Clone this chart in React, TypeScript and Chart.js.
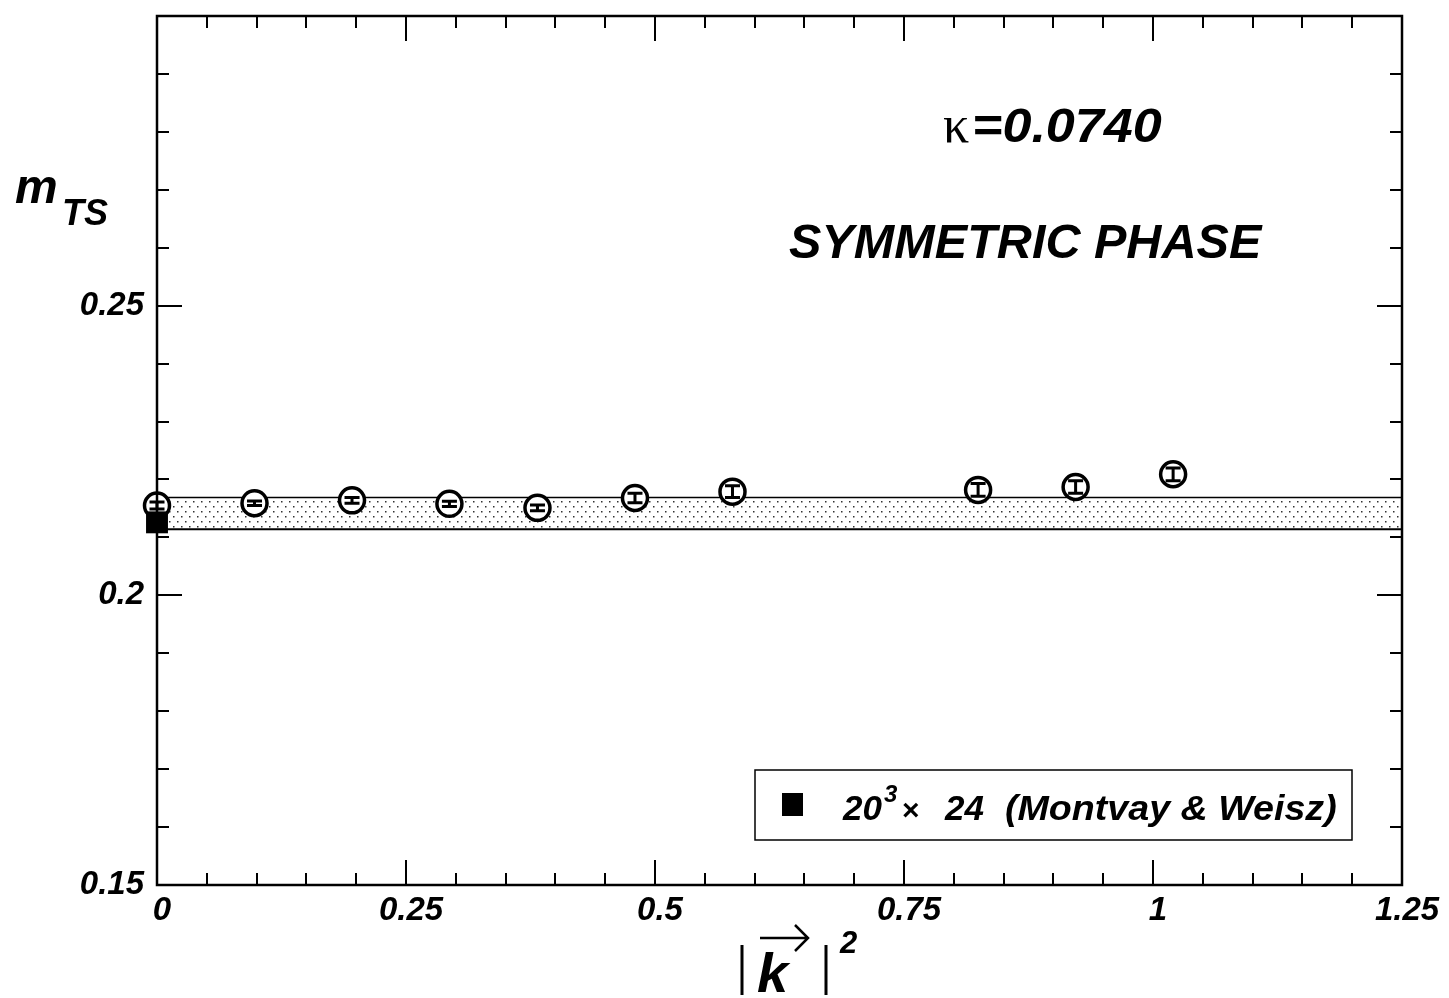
import React, { useEffect, useRef } from "react";
import { Chart, registerables } from "chart.js";
Chart.register(...registerables);

// ---- data ----
const kSquared = [0, 0.0979, 0.1958, 0.2936, 0.382, 0.4799, 0.5778, 0.8244, 0.9223, 1.0202];
const mTS = [0.2155, 0.2159, 0.2164, 0.2158, 0.2151, 0.2168, 0.2179, 0.2182, 0.2187, 0.2209];
const mTSErr = [0.0006, 0.0004, 0.0005, 0.00045, 0.0005, 0.0008, 0.001, 0.0011, 0.0011, 0.0011];
const refK = [0];
const refM = [0.2126];
const bandX = [0, 1.25];
const bandLow = [0.2114, 0.2114];
const bandHigh = [0.2169, 0.2169];
const xMajorTicks = [0, 0.25, 0.5, 0.75, 1, 1.25];
const xTickLabels = ["0", "0.25", "0.5", "0.75", "1", "1.25"];
const yMajorTicks = [0.15, 0.2, 0.25, 0.3];
const yTickLabels = ["0.15", "0.2", "0.25", ""];
const xMinorStep = 0.05;
const yMinorStep = 0.01;
const legendLabel = { base: "20", sup: "3", times: "×", rest1: "24", rest2: "(Montvay & Weisz)" };
const kappaText = "=0.0740";
const phaseText = "SYMMETRIC PHASE";

const SANS = '"Liberation Sans", Arial, Helvetica, sans-serif';
const SERIF = '"Liberation Serif", "Times New Roman", serif';

function makePattern(): CanvasPattern | string {
  const c = document.createElement("canvas");
  c.width = 8;
  c.height = 10;
  const g = c.getContext("2d");
  if (!g) return "#ccc";
  g.fillStyle = "#fff";
  g.fillRect(0, 0, 8, 10);
  g.fillStyle = "#333";
  g.fillRect(1, 1, 1.5, 1.5);
  g.fillRect(5, 6, 1.5, 1.5);
  const p = g.createPattern(c, "repeat");
  return p || "#ccc";
}

function stretchText(ctx: CanvasRenderingContext2D, text: string, x: number, y: number, sx: number) {
  ctx.save();
  ctx.translate(x, y);
  ctx.scale(sx, 1);
  ctx.fillText(text, 0, 0);
  ctx.restore();
}

const framePlugin = {
  id: "frameTicks",
  afterDatasetsDraw(chart: any) {
    const ctx = chart.ctx as CanvasRenderingContext2D;
    const xs = chart.scales.x;
    const ys = chart.scales.y;
    ctx.save();
    ctx.strokeStyle = "#000";
    ctx.lineWidth = 3;
    kSquared.forEach((k, i) => {
      const px = xs.getPixelForValue(k);
      const y1 = ys.getPixelForValue(mTS[i] + mTSErr[i]);
      const y2 = ys.getPixelForValue(mTS[i] - mTSErr[i]);
      ctx.beginPath();
      ctx.moveTo(px, y1);
      ctx.lineTo(px, y2);
      ctx.moveTo(px - 7.5, y1);
      ctx.lineTo(px + 7.5, y1);
      ctx.moveTo(px - 7.5, y2);
      ctx.lineTo(px + 7.5, y2);
      ctx.stroke();
    });
    ctx.restore();
  },
  afterDraw(chart: any) {
    const ctx = chart.ctx as CanvasRenderingContext2D;
    const { left, right, top, bottom } = chart.chartArea;
    const xs = chart.scales.x;
    const ys = chart.scales.y;
    ctx.save();
    ctx.strokeStyle = "#000";
    ctx.fillStyle = "#000";
    // ticks
    ctx.lineWidth = 2;
    ctx.beginPath();
    const majorLen = 25;
    const minorLen = 12;
    for (let v = xs.min; v <= xs.max + 1e-9; v += xMinorStep) {
      const isMajor = xMajorTicks.some((t) => Math.abs(t - v) < 1e-6);
      const len = isMajor ? majorLen : minorLen;
      const px = Math.round(xs.getPixelForValue(v));
      ctx.moveTo(px, bottom);
      ctx.lineTo(px, bottom - len);
      ctx.moveTo(px, top);
      ctx.lineTo(px, top + len);
    }
    for (let v = ys.min; v <= ys.max + 1e-9; v += yMinorStep) {
      const isMajor = yMajorTicks.some((t) => Math.abs(t - v) < 1e-6);
      const len = isMajor ? majorLen : minorLen;
      const py = Math.round(ys.getPixelForValue(v));
      ctx.moveTo(left, py);
      ctx.lineTo(left + len, py);
      ctx.moveTo(right, py);
      ctx.lineTo(right - len, py);
    }
    ctx.stroke();
    // frame
    ctx.lineWidth = 2.5;
    ctx.strokeRect(left, top, right - left, bottom - top);

    // tick labels
    ctx.font = `italic bold 33px ${SANS}`;
    ctx.textBaseline = "middle";
    ctx.textAlign = "center";
    xMajorTicks.forEach((t, i) => {
      ctx.fillText(xTickLabels[i], xs.getPixelForValue(t) + 5, 911);
    });
    ctx.textAlign = "right";
    yMajorTicks.forEach((t, i) => {
      if (yTickLabels[i]) ctx.fillText(yTickLabels[i], 144, ys.getPixelForValue(t));
    });

    // y axis title m_TS
    ctx.textAlign = "left";
    ctx.textBaseline = "alphabetic";
    ctx.font = `italic bold 48px ${SANS}`;
    ctx.fillText("m", 15, 203);
    ctx.font = `italic bold 36px ${SANS}`;
    ctx.fillText("TS", 62, 225);

    // x axis title |k|^2
    ctx.lineWidth = 3;
    ctx.beginPath();
    ctx.moveTo(742, 945);
    ctx.lineTo(742, 995);
    ctx.moveTo(826, 945);
    ctx.lineTo(826, 995);
    ctx.stroke();
    ctx.font = `italic bold 56px ${SANS}`;
    ctx.fillText("k", 757, 992);
    ctx.lineWidth = 2.5;
    ctx.beginPath();
    ctx.moveTo(760, 938);
    ctx.lineTo(807, 938);
    ctx.moveTo(795, 925);
    ctx.lineTo(808, 938);
    ctx.lineTo(795, 951);
    ctx.stroke();
    ctx.font = `italic bold 31px ${SANS}`;
    ctx.fillText("2", 840, 953);

    // annotations
    ctx.font = `52px ${SERIF}`;
    ctx.fillText("κ", 943, 142);
    ctx.font = `italic bold 48px ${SANS}`;
    stretchText(ctx, kappaText, 972, 142, 1.085);
    stretchText(ctx, phaseText, 789, 258, 1.012);

    // legend box
    ctx.lineWidth = 1.5;
    ctx.strokeRect(755, 770, 597, 70);
    ctx.fillRect(782, 793, 21, 23);
    ctx.font = `italic bold 35px ${SANS}`;
    ctx.fillText(legendLabel.base, 843, 820);
    ctx.font = `italic bold 24px ${SANS}`;
    ctx.fillText(legendLabel.sup, 884, 802);
    ctx.font = `bold 30px ${SANS}`;
    ctx.fillText(legendLabel.times, 902, 820);
    ctx.font = `italic bold 35px ${SANS}`;
    ctx.fillText(legendLabel.rest1, 945, 820);
    stretchText(ctx, legendLabel.rest2, 1005, 820, 1.075);
    ctx.restore();
  },
};

export default function App() {
  const ref = useRef<HTMLCanvasElement | null>(null);
  useEffect(() => {
    if (!ref.current) return;
    const pattern = makePattern();
    const chart = new Chart(ref.current, {
      type: "scatter",
      data: {
        datasets: [
          {
            label: "ref",
            data: refK.map((x, i) => ({ x, y: refM[i] })),
            pointStyle: "rect",
            pointRadius: 15.5,
            backgroundColor: "#000",
            borderColor: "#000",
            borderWidth: 0,
            order: 0,
            clip: false as any,
          },
          {
            label: "mTS",
            data: kSquared.map((x, i) => ({ x, y: mTS[i] })),
            pointStyle: "circle",
            pointRadius: 12.5,
            backgroundColor: "#fff",
            borderColor: "#000",
            borderWidth: 3.5,
            order: 1,
            clip: false as any,
          },
          {
            label: "bandLow",
            type: "line" as any,
            data: bandX.map((x, i) => ({ x, y: bandLow[i] })),
            borderColor: "#000",
            borderWidth: 2,
            pointRadius: 0,
            fill: false,
            order: 2,
          },
          {
            label: "bandHigh",
            type: "line" as any,
            data: bandX.map((x, i) => ({ x, y: bandHigh[i] })),
            borderColor: "#000",
            borderWidth: 1.5,
            pointRadius: 0,
            fill: "-1",
            backgroundColor: pattern as any,
            order: 2,
          },
        ],
      },
      options: {
        responsive: false,
        animation: false,
        devicePixelRatio: 1,
        layout: { padding: { left: 157, right: 47, top: 14, bottom: 113 } },
        plugins: { legend: { display: false }, tooltip: { enabled: false }, filler: { propagate: false } },
        events: [],
        scales: {
          x: { type: "linear", min: 0, max: 1.25, display: false },
          y: { type: "linear", min: 0.15, max: 0.3, display: false },
        },
      },
      plugins: [framePlugin],
    });
    return () => chart.destroy();
  }, []);
  return (
    <div style={{ position: "absolute", left: 0, top: 0, width: 1449, height: 998, background: "#fff" }}>
      <canvas ref={ref} width={1449} height={998} />
    </div>
  );
}
